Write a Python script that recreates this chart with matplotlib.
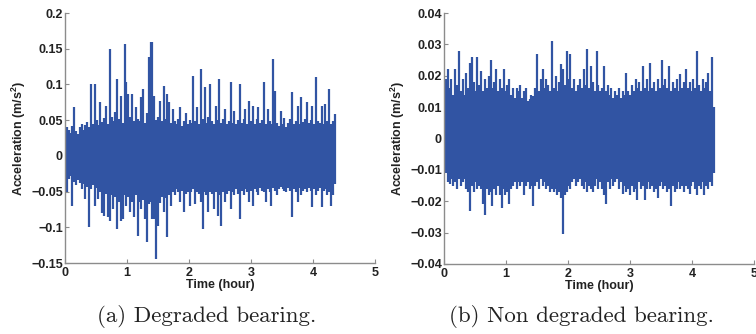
"""
Vibration acceleration of a degraded vs. a non degraded bearing over ~4.35 h.
Each signal is stored as upper / lower peak values per 0.03 h bin, read from
the figure; every bin is drawn as a vertical stroke between them.
"""
import numpy as np
import matplotlib.pyplot as plt

# ──────────────────────────────────────────────────────────────────────────────
# Data
# ──────────────────────────────────────────────────────────────────────────────
T_END = 4.35  # hours

peaks_hi_a = [
    0.028, 0.040, 0.036, 0.032, 0.042, 0.069, 0.035, 0.031, 0.040, 0.045,
    0.036, 0.043, 0.047, 0.040, 0.100, 0.045, 0.100, 0.050, 0.043, 0.075,
    0.047, 0.053, 0.070, 0.044, 0.150, 0.055, 0.049, 0.062, 0.107, 0.052,
    0.084, 0.046, 0.156, 0.103, 0.086, 0.054, 0.086, 0.049, 0.068, 0.052,
    0.049, 0.082, 0.093, 0.046, 0.060, 0.138, 0.159, 0.159, 0.084, 0.050,
    0.054, 0.077, 0.049, 0.098, 0.052, 0.086, 0.075, 0.046, 0.065, 0.049,
    0.044, 0.052, 0.068, 0.042, 0.049, 0.060, 0.044, 0.050, 0.046, 0.112,
    0.049, 0.068, 0.044, 0.121, 0.052, 0.096, 0.046, 0.054, 0.100, 0.049,
    0.044, 0.070, 0.050, 0.107, 0.046, 0.052, 0.065, 0.044, 0.049, 0.103,
    0.046, 0.063, 0.044, 0.050, 0.100, 0.046, 0.052, 0.065, 0.044, 0.077,
    0.049, 0.070, 0.044, 0.052, 0.068, 0.046, 0.050, 0.103, 0.044, 0.065,
    0.049, 0.044, 0.136, 0.091, 0.046, 0.042, 0.063, 0.044, 0.053, 0.041,
    0.046, 0.052, 0.090, 0.044, 0.049, 0.070, 0.044, 0.082, 0.048, 0.052,
    0.075, 0.046, 0.050, 0.070, 0.044, 0.111, 0.049, 0.046, 0.070, 0.044,
    0.072, 0.049, 0.094, 0.044, 0.049, 0.058,
]
peaks_lo_a = [
    -0.020, -0.050, -0.032, -0.028, -0.070, -0.036, -0.041, -0.034, -0.038, -0.046,
    -0.040, -0.060, -0.043, -0.100, -0.047, -0.041, -0.070, -0.045, -0.060, -0.050,
    -0.080, -0.084, -0.053, -0.086, -0.091, -0.055, -0.075, -0.057, -0.103, -0.065,
    -0.091, -0.089, -0.055, -0.070, -0.057, -0.079, -0.065, -0.086, -0.055, -0.112,
    -0.065, -0.075, -0.062, -0.089, -0.121, -0.068, -0.064, -0.089, -0.089, -0.145,
    -0.098, -0.066, -0.057, -0.079, -0.059, -0.114, -0.055, -0.070, -0.050, -0.055,
    -0.047, -0.051, -0.065, -0.049, -0.079, -0.053, -0.050, -0.070, -0.051, -0.047,
    -0.068, -0.050, -0.053, -0.065, -0.103, -0.051, -0.055, -0.079, -0.050, -0.053,
    -0.075, -0.051, -0.084, -0.055, -0.098, -0.050, -0.065, -0.053, -0.049, -0.075,
    -0.050, -0.055, -0.047, -0.053, -0.089, -0.049, -0.055, -0.047, -0.051, -0.065,
    -0.049, -0.070, -0.047, -0.051, -0.055, -0.045, -0.049, -0.051, -0.065, -0.047,
    -0.050, -0.070, -0.045, -0.049, -0.055, -0.047, -0.043, -0.046, -0.049, -0.051,
    -0.045, -0.049, -0.086, -0.047, -0.051, -0.065, -0.045, -0.055, -0.049, -0.047,
    -0.051, -0.045, -0.049, -0.072, -0.047, -0.055, -0.049, -0.045, -0.072, -0.049,
    -0.047, -0.055, -0.050, -0.070, -0.055, -0.040,
]

peaks_hi_b = [
    0.010, 0.019, 0.022, 0.016, 0.019, 0.014, 0.022, 0.017, 0.028, 0.015,
    0.019, 0.014, 0.021, 0.016, 0.024, 0.026, 0.018, 0.015, 0.026, 0.017,
    0.0215, 0.015, 0.019, 0.016, 0.020, 0.025, 0.016, 0.018, 0.022, 0.015,
    0.019, 0.016, 0.022, 0.015, 0.017, 0.019, 0.014, 0.016, 0.013, 0.016,
    0.015, 0.017, 0.013, 0.015, 0.016, 0.012, 0.0125, 0.014, 0.0135, 0.016,
    0.027, 0.015, 0.019, 0.022, 0.016, 0.019, 0.017, 0.015, 0.031, 0.016,
    0.020, 0.015, 0.018, 0.0236, 0.022, 0.017, 0.028, 0.019, 0.0268, 0.016,
    0.019, 0.015, 0.017, 0.019, 0.016, 0.022, 0.017, 0.0285, 0.016, 0.023,
    0.018, 0.015, 0.028, 0.017, 0.015, 0.016, 0.023, 0.015, 0.017, 0.014,
    0.016, 0.013, 0.015, 0.014, 0.016, 0.013, 0.015, 0.014, 0.0208, 0.015,
    0.014, 0.017, 0.015, 0.019, 0.016, 0.018, 0.015, 0.023, 0.016, 0.019,
    0.015, 0.024, 0.016, 0.018, 0.015, 0.019, 0.016, 0.025, 0.017, 0.019,
    0.016, 0.023, 0.015, 0.018, 0.016, 0.019, 0.015, 0.0205, 0.016, 0.018,
    0.022, 0.016, 0.018, 0.015, 0.019, 0.016, 0.028, 0.017, 0.015, 0.019,
    0.016, 0.018, 0.021, 0.015, 0.026, 0.010,
]
peaks_lo_b = [
    -0.010, -0.011, -0.014, -0.0145, -0.013, -0.015, -0.014, -0.016, -0.013, -0.015,
    -0.014, -0.013, -0.016, -0.017, -0.023, -0.015, -0.017, -0.014, -0.016, -0.015,
    -0.016, -0.021, -0.0245, -0.016, -0.018, -0.017, -0.0215, -0.016, -0.018, -0.015,
    -0.018, -0.022, -0.016, -0.018, -0.017, -0.021, -0.016, -0.015, -0.014, -0.016,
    -0.014, -0.015, -0.014, -0.018, -0.015, -0.014, -0.016, -0.015, -0.0215, -0.015,
    -0.014, -0.016, -0.013, -0.015, -0.014, -0.016, -0.015, -0.017, -0.016, -0.017,
    -0.016, -0.018, -0.017, -0.019, -0.0305, -0.018, -0.017, -0.015, -0.016, -0.014,
    -0.013, -0.015, -0.014, -0.013, -0.015, -0.016, -0.014, -0.017, -0.015, -0.016,
    -0.017, -0.015, -0.013, -0.016, -0.014, -0.016, -0.018, -0.0209, -0.014, -0.016,
    -0.013, -0.015, -0.014, -0.013, -0.016, -0.014, -0.0177, -0.015, -0.017, -0.016,
    -0.018, -0.015, -0.017, -0.016, -0.0195, -0.014, -0.016, -0.015, -0.0195, -0.016,
    -0.014, -0.016, -0.015, -0.017, -0.016, -0.019, -0.015, -0.014, -0.016, -0.015,
    -0.017, -0.016, -0.0214, -0.015, -0.017, -0.016, -0.014, -0.016, -0.015, -0.017,
    -0.015, -0.016, -0.0177, -0.015, -0.014, -0.016, -0.018, -0.015, -0.016, -0.014,
    -0.018, -0.015, -0.016, -0.014, -0.015, -0.011,
]

x_ticks = [0, 1, 2, 3, 4, 5]
y_ticks_a = [-0.15, -0.1, -0.05, 0, 0.05, 0.1, 0.15, 0.2]
y_labels_a = ["\u22120.15", "\u22120.1", "\u22120.05", "0", "0.05", "0.1", "0.15", "0.2"]
y_ticks_b = [-0.04, -0.03, -0.02, -0.01, 0, 0.01, 0.02, 0.03, 0.04]
y_labels_b = ["\u22120.04", "\u22120.03", "\u22120.02", "\u22120.01", "0",
              "0.01", "0.02", "0.03", "0.04"]
captions = ["(a) Degraded bearing.", "(b) Non degraded bearing."]

# ──────────────────────────────────────────────────────────────────────────────
# Style
# ──────────────────────────────────────────────────────────────────────────────
LINE = "#3154a3"
SPINE = "#8c8c8c"
TEXT = "#222222"
plt.rcParams.update({
    "font.family": ["Liberation Sans", "DejaVu Sans"],
    "font.weight": "bold",
    "font.size": 9,
    "mathtext.fontset": "custom",
    "mathtext.bf": "Liberation Sans:bold",
    "mathtext.rm": "Liberation Sans:bold",
    "mathtext.default": "bf",
})


def style_axes(ax, yticks, ylabels):
    ax.set_xlim(0, 5)
    ax.set_ylim(yticks[0], yticks[-1])
    ax.set_xticks(x_ticks)
    ax.set_xticklabels([str(v) for v in x_ticks], fontweight="bold")
    ax.set_yticks(yticks)
    ax.set_yticklabels(ylabels, fontweight="bold")
    for side in ("top", "right"):
        ax.spines[side].set_visible(False)
    for side in ("left", "bottom"):
        ax.spines[side].set_color(SPINE)
        ax.spines[side].set_linewidth(1.0)
    ax.tick_params(direction="in", length=3, width=0.8, color=SPINE,
                   labelcolor=TEXT, labelsize=9)
    ax.tick_params(axis="y", pad=1.5)
    ax.tick_params(axis="x", pad=3)
    ax.set_xlabel("Time (hour)", labelpad=0, color=TEXT, fontweight="bold")
    ax.set_ylabel(r"Acceleration (m/s$^2$)", labelpad=2, color=TEXT,
                  fontweight="bold")


fig = plt.figure(figsize=(7.56, 3.34), dpi=100)
ax_a = fig.add_axes([65 / 756, 71 / 334, 310 / 756, 250 / 334])
ax_b = fig.add_axes([444 / 756, 70 / 334, 310 / 756, 251 / 334])

for ax, hi, lo, yt, yl in [
    (ax_a, peaks_hi_a, peaks_lo_a, y_ticks_a, y_labels_a),
    (ax_b, peaks_hi_b, peaks_lo_b, y_ticks_b, y_labels_b),
]:
    t = np.linspace(0, T_END, len(hi))
    ax.vlines(t, lo, hi, color=LINE, lw=1.6)
    style_axes(ax, yt, yl)

for cx, text in zip([206.5 / 756, 581 / 756], captions):
    fig.text(cx, 12 / 334, text, ha="center", va="baseline",
             family="cmr10", fontweight="normal", fontsize=16.5, color=TEXT)

fig.savefig("out.png", dpi=100)
